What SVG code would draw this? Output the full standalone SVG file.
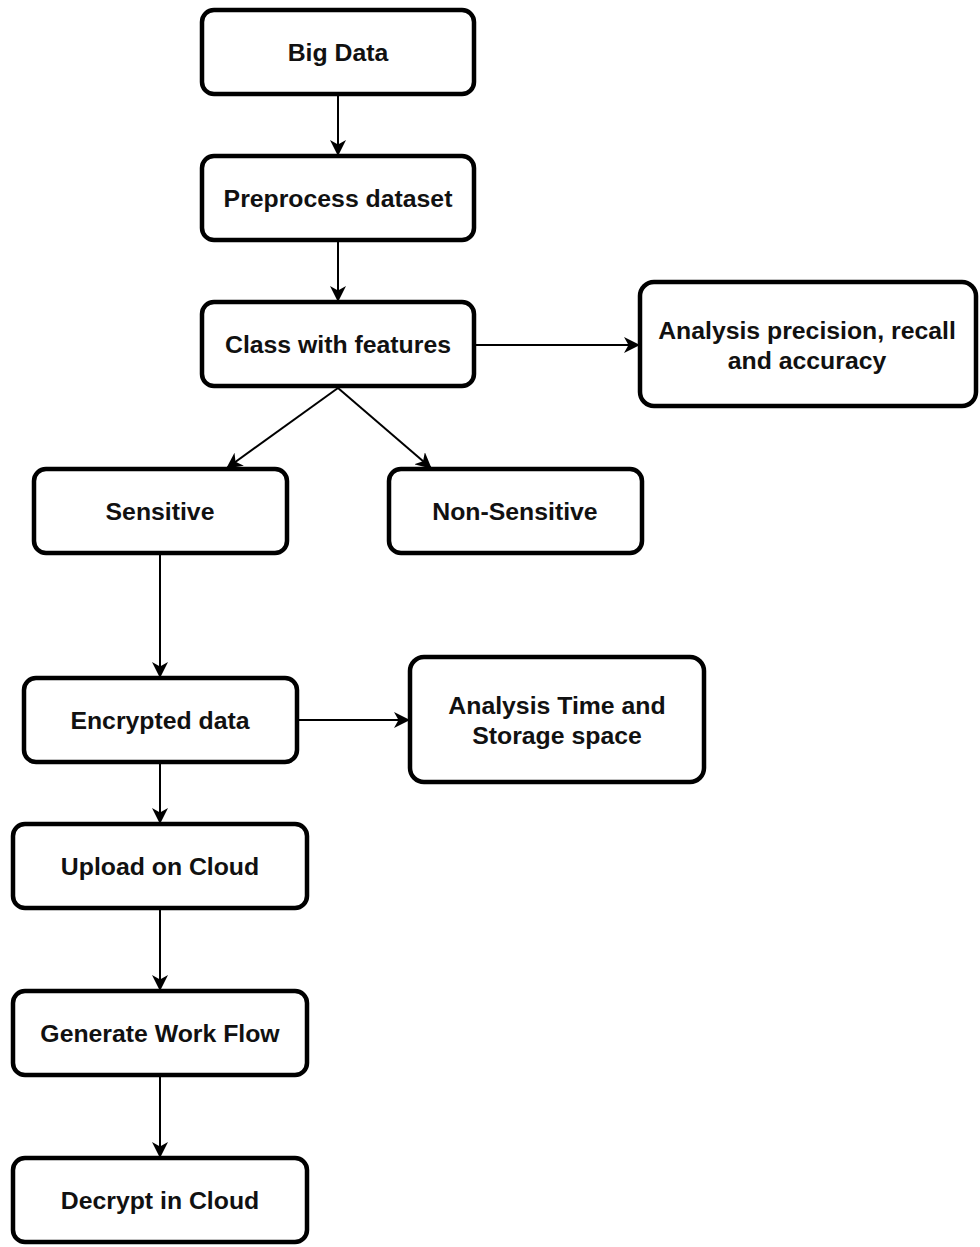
<svg xmlns="http://www.w3.org/2000/svg" width="980" height="1247" viewBox="0 0 980 1247">
<style>
.box{fill:#fff;stroke:#000;stroke-width:4.5}
.t{font-family:"Liberation Sans",Arial,sans-serif;font-weight:bold;font-size:24.8px;fill:#111;text-anchor:middle}
.c{stroke:#000;stroke-width:2;fill:none}
</style>
<defs>
<marker id="ah" viewBox="0 0 16 16" refX="15" refY="8" markerWidth="16" markerHeight="16" markerUnits="userSpaceOnUse" orient="auto">
<path d="M0,0 L16,8 L0,16 L4.5,8 Z" fill="#000"/>
</marker>
</defs>
<rect width="980" height="1247" fill="#fff"/>
<g id="connectors">
<line class="c" x1="338" y1="96" x2="338" y2="155" marker-end="url(#ah)"/>
<line class="c" x1="338" y1="242" x2="338" y2="301" marker-end="url(#ah)"/>
<line class="c" x1="476" y1="345" x2="639" y2="345" marker-end="url(#ah)"/>
<line class="c" x1="338" y1="388" x2="227" y2="468" marker-end="url(#ah)"/>
<line class="c" x1="338" y1="388" x2="431" y2="468" marker-end="url(#ah)"/>
<line class="c" x1="160" y1="555" x2="160" y2="677" marker-end="url(#ah)"/>
<line class="c" x1="299" y1="720" x2="409" y2="720" marker-end="url(#ah)"/>
<line class="c" x1="160" y1="764" x2="160" y2="823" marker-end="url(#ah)"/>
<line class="c" x1="160" y1="910" x2="160" y2="990" marker-end="url(#ah)"/>
<line class="c" x1="160" y1="1077" x2="160" y2="1157" marker-end="url(#ah)"/>
</g>
<g id="big-data"><rect class="box" x="202" y="10" width="272" height="84" rx="12"/><text class="t" x="338" y="61">Big Data</text></g>
<g id="preprocess"><rect class="box" x="202" y="156" width="272" height="84" rx="12"/><text class="t" x="338" y="207">Preprocess dataset</text></g>
<g id="class-features"><rect class="box" x="202" y="302" width="272" height="84" rx="12"/><text class="t" x="338" y="353">Class with features</text></g>
<g id="analysis-prc"><rect class="box" x="640" y="282" width="336" height="124" rx="14"/><text class="t" x="807" y="339">Analysis precision, recall</text><text class="t" x="807" y="369">and accuracy</text></g>
<g id="sensitive"><rect class="box" x="34" y="469" width="253" height="84" rx="12"/><text class="t" x="160" y="520">Sensitive</text></g>
<g id="non-sensitive"><rect class="box" x="389" y="469" width="253" height="84" rx="12"/><text class="t" x="515" y="520">Non-Sensitive</text></g>
<g id="encrypted"><rect class="box" x="24" y="678" width="273" height="84" rx="12"/><text class="t" x="160" y="729">Encrypted data</text></g>
<g id="analysis-time"><rect class="box" x="410" y="657" width="294" height="125" rx="14"/><text class="t" x="557" y="714">Analysis Time and</text><text class="t" x="557" y="744">Storage space</text></g>
<g id="upload"><rect class="box" x="13" y="824" width="294" height="84" rx="12"/><text class="t" x="160" y="875">Upload on Cloud</text></g>
<g id="generate"><rect class="box" x="13" y="991" width="294" height="84" rx="12"/><text class="t" x="160" y="1042">Generate Work Flow</text></g>
<g id="decrypt"><rect class="box" x="13" y="1158" width="294" height="84" rx="12"/><text class="t" x="160" y="1209">Decrypt in Cloud</text></g>
</svg>
